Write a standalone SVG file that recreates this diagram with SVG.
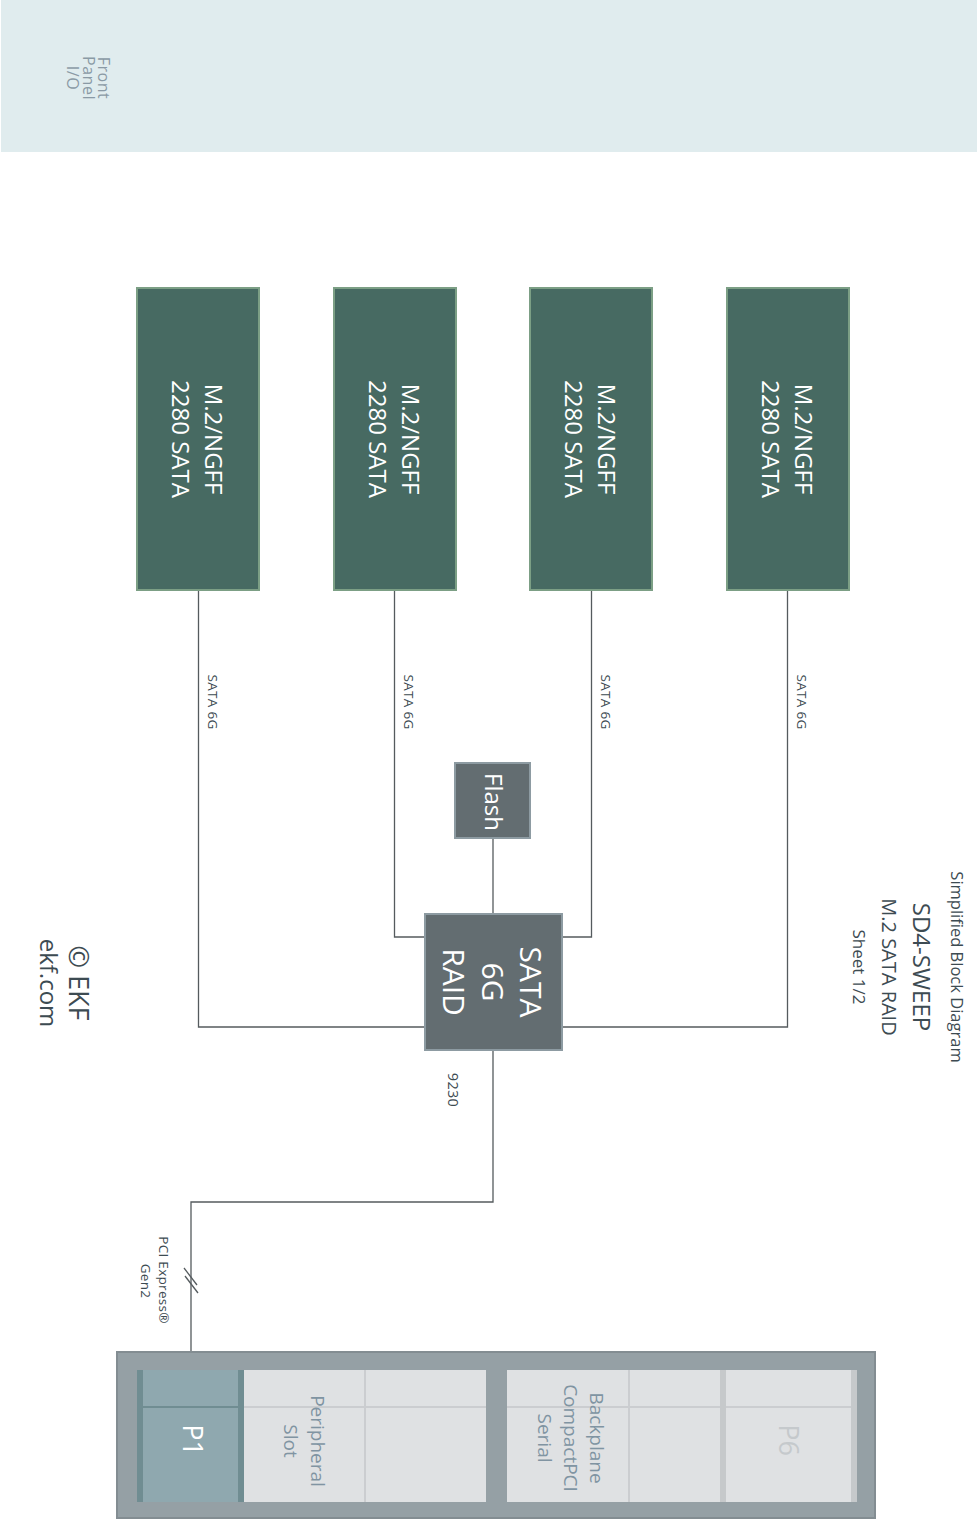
<svg xmlns="http://www.w3.org/2000/svg" width="977" height="1519" viewBox="0 0 977 1519">
<style>
text{font-family:"Open Sans","Noto Sans","DejaVu Sans",sans-serif;}
.m2{fill:#476a62;stroke:#7c9f85;stroke-width:2;}
.chip{fill:#636d71;stroke:#8d9ba2;stroke-width:2;}
.wt{fill:#ffffff;text-anchor:middle;}
.lbl{fill:#3d4b52;font-size:13.5px;text-anchor:middle;letter-spacing:0.3px;}
.dk{fill:#3d4b52;text-anchor:middle;}
.fp{fill:#8a9aa5;font-size:16px;text-anchor:middle;letter-spacing:0.5px;}
.cell{fill:#dfe1e3;}
.gl{stroke:#cbcdd0;stroke-width:2;fill:none;}
.con{stroke:#555b5e;stroke-width:1.3;fill:none;}
.slot{fill:#8094a2;font-size:19px;text-anchor:middle;}
</style>
<rect width="977" height="1519" fill="#ffffff"/>
<g id="front-panel">
<rect x="1" y="0" width="976" height="152" fill="#e0ecee"/>
<text class="fp" transform="translate(98,78) rotate(90)">Front</text>
<text class="fp" transform="translate(83,78) rotate(90)">Panel</text>
<text class="fp" transform="translate(67,78) rotate(90)">I/O</text>
</g>
<g id="connectors">
<polyline class="con" points="198.5,590 198.5,1027 425,1027"/>
<polyline class="con" points="394.5,590 394.5,937 425,937"/>
<polyline class="con" points="591.5,590 591.5,937 562,937"/>
<polyline class="con" points="787.5,590 787.5,1027 562,1027"/>
<line class="con" x1="493" y1="838" x2="493" y2="914"/>
<polyline class="con" points="493,1050 493,1202 191,1202 191,1352"/>
<line class="con" x1="184" y1="1268" x2="197" y2="1285"/>
<line class="con" x1="185" y1="1276" x2="198" y2="1293"/>
<text class="lbl" transform="translate(207.5,702) rotate(90)">SATA 6G</text>
<text class="lbl" transform="translate(403.5,702) rotate(90)">SATA 6G</text>
<text class="lbl" transform="translate(600.5,702) rotate(90)">SATA 6G</text>
<text class="lbl" transform="translate(796.5,702) rotate(90)">SATA 6G</text>
<text class="lbl" transform="translate(448,1090) rotate(90)" style="font-size:14.5px">9230</text>
<text class="lbl" transform="translate(158.5,1280) rotate(90)">PCI Express®</text>
<text class="lbl" transform="translate(140.5,1281) rotate(90)">Gen2</text>
</g>
<g id="m2-1">
<rect class="m2" x="137" y="288" width="122" height="302"/>
<text class="wt" transform="translate(205,439) rotate(90)" font-size="24">M.2/NGFF</text>
<text class="wt" transform="translate(172,439) rotate(90)" font-size="24">2280 SATA</text>
</g>
<g id="m2-2">
<rect class="m2" x="334" y="288" width="122" height="302"/>
<text class="wt" transform="translate(402,439) rotate(90)" font-size="24">M.2/NGFF</text>
<text class="wt" transform="translate(369,439) rotate(90)" font-size="24">2280 SATA</text>
</g>
<g id="m2-3">
<rect class="m2" x="530" y="288" width="122" height="302"/>
<text class="wt" transform="translate(598,439) rotate(90)" font-size="24">M.2/NGFF</text>
<text class="wt" transform="translate(565,439) rotate(90)" font-size="24">2280 SATA</text>
</g>
<g id="m2-4">
<rect class="m2" x="727" y="288" width="122" height="302"/>
<text class="wt" transform="translate(795,439) rotate(90)" font-size="24">M.2/NGFF</text>
<text class="wt" transform="translate(762,439) rotate(90)" font-size="24">2280 SATA</text>
</g>
<g id="flash">
<rect class="chip" x="455" y="763" width="75" height="75"/>
<text class="wt" transform="translate(485,802) rotate(90)" font-size="24">Flash</text>
</g>
<g id="raid">
<rect class="chip" x="425" y="914" width="137" height="136"/>
<text class="wt" transform="translate(520,982) rotate(90)" font-size="30">SATA</text>
<text class="wt" transform="translate(482,982) rotate(90)" font-size="30">6G</text>
<text class="wt" transform="translate(443,982) rotate(90)" font-size="30">RAID</text>
</g>
<g id="title">
<text class="dk" transform="translate(951,967) rotate(90)" font-size="16.5">Simplified Block Diagram</text>
<text class="dk" transform="translate(913,967) rotate(90)" font-size="24">SD4-SWEEP</text>
<text class="dk" transform="translate(882,967) rotate(90)" font-size="20">M.2 SATA RAID</text>
<text class="dk" transform="translate(853,967) rotate(90)" font-size="17">Sheet 1/2</text>
</g>
<g id="copyright">
<text class="dk" transform="translate(69,983) rotate(90)" font-size="27">© EKF</text>
<text class="dk" transform="translate(40,983) rotate(90)" font-size="24">ekf.com</text>
</g>
<g id="backplane">
<rect x="117" y="1352" width="758" height="166" fill="#95a0a5" stroke="#838d92" stroke-width="2"/>
<rect x="137" y="1370" width="107" height="132" fill="#8fa8af"/>
<rect x="137" y="1370" width="6" height="132" fill="#708d92"/>
<rect x="238" y="1370" width="6" height="132" fill="#708d92"/>
<line x1="143" y1="1407" x2="238" y2="1407" stroke="#708d92" stroke-width="2"/>
<rect class="cell" x="244" y="1370" width="242" height="132"/>
<line class="gl" x1="365" y1="1370" x2="365" y2="1502"/>
<line class="gl" x1="244" y1="1407" x2="486" y2="1407"/>
<rect class="cell" x="507" y="1370" width="350" height="132"/>
<line class="gl" x1="629" y1="1370" x2="629" y2="1502"/>
<line class="gl" x1="507" y1="1407" x2="857" y2="1407"/>
<rect x="720" y="1370" width="6" height="132" fill="#c6c9cb"/>
<rect x="851" y="1370" width="6" height="132" fill="#c6c9cb"/>
<text class="wt" transform="translate(183,1440) rotate(90)" font-size="27">P1</text>
<text class="slot" transform="translate(311,1441) rotate(90)">Peripheral</text>
<text class="slot" transform="translate(284,1441) rotate(90)">Slot</text>
<text class="slot" transform="translate(590,1438) rotate(90)">Backplane</text>
<text class="slot" transform="translate(564,1438) rotate(90)">CompactPCI</text>
<text class="slot" transform="translate(538,1438) rotate(90)">Serial</text>
<text transform="translate(779,1440) rotate(90)" style="fill:#c5c9cc;font-size:27px;text-anchor:middle">P6</text>
</g>
</svg>
